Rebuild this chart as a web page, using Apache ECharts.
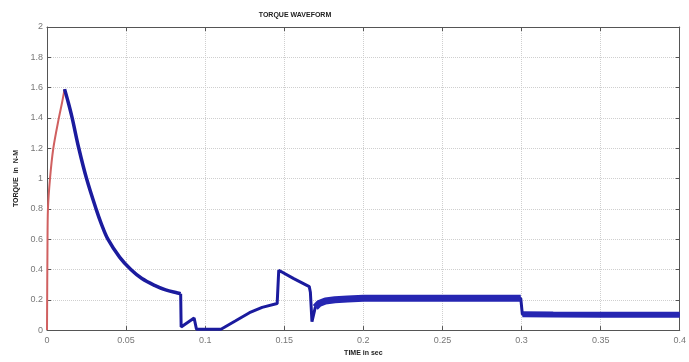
<!DOCTYPE html>
<html>
<head>
<meta charset="utf-8">
<script src="https://cdn.jsdelivr.net/npm/echarts@6/dist/echarts.min.js"></script>
<style>html,body{margin:0;padding:0;background:#fff}#c{width:689px;height:362px}</style>
</head>
<body>
<div id="c"></div>
<script>
// Tick labels
const xTicks = [0, 0.05, 0.1, 0.15, 0.2, 0.25, 0.3, 0.35, 0.4];
const yTicks = [0, 0.2, 0.4, 0.6, 0.8, 1, 1.2, 1.4, 1.6, 1.8, 2];

// Start-up rise (red)
const riseTime   = [0, 0.0003, 0.0006, 0.0019, 0.004, 0.0075, 0.0095, 0.0111];
const riseTorque = [0, 0.55, 0.8, 1.0, 1.2, 1.4, 1.5, 1.59];

// Exponential-like decay after peak (blue)
const decayTime   = [0.0111, 0.0135, 0.0159, 0.0201, 0.025, 0.031, 0.0344, 0.0385, 0.046, 0.053, 0.06, 0.068, 0.075, 0.0825, 0.0845];
const decayTorque = [1.59, 1.5, 1.4, 1.2, 1.0, 0.8, 0.7, 0.6, 0.48, 0.4, 0.34, 0.295, 0.265, 0.245, 0.24];

// Transient with steps (blue)
const transTime   = [0.0845, 0.0848, 0.085, 0.093, 0.0935, 0.0945, 0.095, 0.110, 0.119, 0.128, 0.136, 0.1455, 0.146, 0.1465, 0.156, 0.1658, 0.1665, 0.1675, 0.1696];
const transTorque = [0.24, 0.02, 0.03, 0.08, 0.085, 0.006, 0.006, 0.006, 0.06, 0.115, 0.15, 0.175, 0.18, 0.395, 0.34, 0.287, 0.25, 0.056, 0.15];

// Steady load 1 (blue, noisy band)
const load1Time   = [0.1696, 0.172, 0.176, 0.182, 0.19, 0.2, 0.22, 0.25, 0.28, 0.2995];
const load1Torque = [0.15, 0.175, 0.192, 0.2, 0.205, 0.21, 0.21, 0.21, 0.21, 0.21];

// Steady load 2 (blue, noisy band)
const load2Time   = [0.3005, 0.32, 0.35, 0.38, 0.4];
const load2Torque = [0.104, 0.103, 0.102, 0.102, 0.102];

const pairs = (t, v) => t.map((x, i) => [x, v[i]]);
const stepBlue = pairs(transTime, transTorque).concat(pairs(load1Time, load1Torque), pairs(load2Time, load2Torque));

const blue = '#1b1b9e';
const font = 'Liberation Sans Narrow, Liberation Sans, sans-serif';
const labelStyle = { color: '#777', fontSize: 9, fontFamily: font };
const nameStyle = { color: '#222', fontSize: 7, fontWeight: 'bold', fontFamily: font };
const gridLine = { show: true, lineStyle: { color: '#cfcfcf', type: 'dotted', width: 1 } };
const axLine = { show: true, onZero: false, lineStyle: { color: '#555', width: 1 } };
const tick = { show: true, inside: true, length: 4, lineStyle: { color: '#555' } };

const chart = echarts.init(document.getElementById('c'), null, { renderer: 'canvas' });
chart.setOption({
  animation: false,
  backgroundColor: '#fff',
  title: {
    text: 'TORQUE WAVEFORM', left: 290, top: 7, textAlign: 'center',
    textStyle: { color: '#222', fontSize: 7, fontWeight: 'bold', fontFamily: font }
  },
  grid: { left: 47, right: 6, top: 27, bottom: 26 },
  xAxis: [{
    type: 'value', min: xTicks[0], max: xTicks[xTicks.length - 1], interval: 0.05,
    axisLine: axLine, axisTick: tick, splitLine: gridLine,
    axisLabel: Object.assign({ margin: 6, formatter: v => String(+v.toFixed(2)) }, labelStyle),
    name: 'TIME in sec', nameLocation: 'middle', nameGap: 19, nameTextStyle: nameStyle
  }, {
    type: 'value', position: 'top', min: 0, max: 0.4, interval: 0.05,
    axisLine: axLine, axisTick: tick, splitLine: { show: false }, axisLabel: { show: false }
  }],
  yAxis: [{
    type: 'value', min: yTicks[0], max: yTicks[yTicks.length - 1], interval: 0.2,
    axisLine: axLine, axisTick: tick, splitLine: gridLine,
    axisLabel: Object.assign({ margin: 4, formatter: v => String(+v.toFixed(1)) }, labelStyle),
    name: 'TORQUE  in  N-M', nameLocation: 'middle', nameGap: 25, nameRotate: 90, nameTextStyle: nameStyle
  }, {
    type: 'value', position: 'right', min: 0, max: 2, interval: 0.2,
    axisLine: axLine, axisTick: tick, splitLine: { show: false }, axisLabel: { show: false }
  }],
  series: [
    { type: 'line', data: pairs(riseTime, riseTorque), showSymbol: false, smooth: 0.3, lineStyle: { color: '#d06060', width: 2 }, z: 3 },
    { type: 'line', data: pairs(decayTime, decayTorque), showSymbol: false, smooth: 0.35, lineStyle: { color: blue, width: 3.5 }, z: 4 },
    { type: 'line', data: stepBlue, showSymbol: false, lineStyle: { color: blue, width: 3 }, z: 4 },
    { type: 'line', data: pairs(load1Time, load1Torque), showSymbol: false, lineStyle: { color: '#2626b2', width: 7 }, z: 4 },
    { type: 'line', data: pairs(load2Time, load2Torque), showSymbol: false, lineStyle: { color: '#2626b2', width: 6 }, z: 4 }
  ]
});
</script>
</body>
</html>
